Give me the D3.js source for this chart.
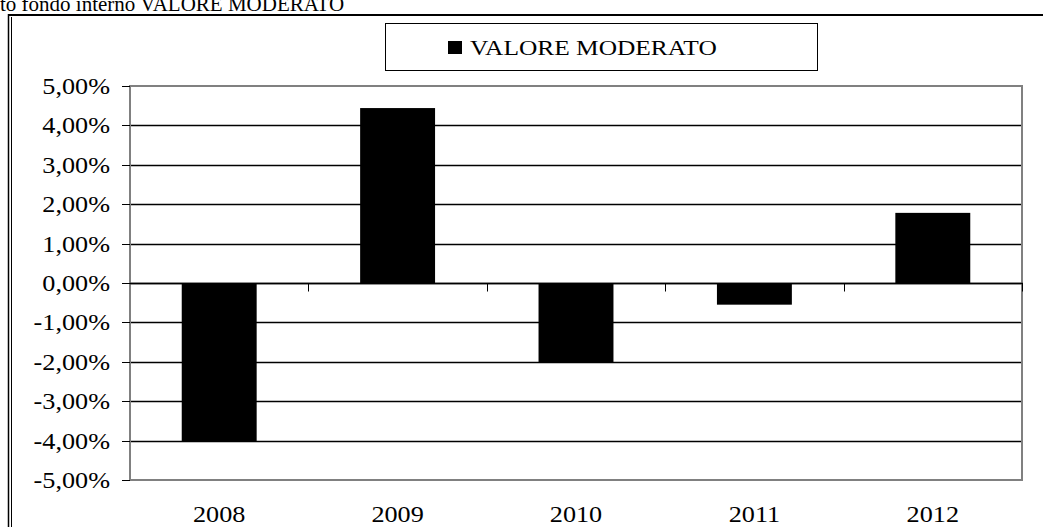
<!DOCTYPE html>
<html>
<head>
<meta charset="utf-8">
<script src="https://cdn.jsdelivr.net/npm/d3@7"></script>
<style>
  html, body { margin: 0; padding: 0; background: #fff; overflow: hidden; }
</style>
</head>
<body>
<script>
const YEARS = ["2008", "2009", "2010", "2011", "2012"];
const VALUES = [-4.02, 4.44, -2.02, -0.55, 1.78];
const Y_TICKS = [-5, -4, -3, -2, -1, 0, 1, 2, 3, 4, 5];
const SERIES_NAME = "VALORE MODERATO";
const TITLE = "to fondo interno VALORE MODERATO";

const W = 1043, H = 527;
const plot = { left: 130, right: 1022, top: 86, bottom: 480 };
const STRETCH = 1.14; // glyphs in the reference are drawn a bit wide
const FONT = "'Liberation Serif', 'Times New Roman', serif";

const svg = d3.select("body").append("svg")
  .attr("width", W).attr("height", H)
  .attr("font-family", FONT)
  .style("display", "block");

// cut-off title at very top
svg.append("text")
  .attr("x", 0).attr("y", 11)
  .attr("font-size", 21)
  .text(TITLE);

// outer frame: heavy top line, double left line
svg.append("line").attr("x1", 8).attr("x2", W).attr("y1", 15).attr("y2", 15)
  .attr("stroke", "#000").attr("stroke-width", 2);
svg.append("line").attr("x1", 8.5).attr("x2", 8.5).attr("y1", 14).attr("y2", H)
  .attr("stroke", "#000").attr("stroke-width", 1.5);
svg.append("line").attr("x1", 11.5).attr("x2", 11.5).attr("y1", 17).attr("y2", H)
  .attr("stroke", "#000").attr("stroke-width", 1);

const x = d3.scaleBand()
  .domain(YEARS)
  .range([plot.left, plot.right])
  .paddingInner(0.58)
  .paddingOuter(0.29);

const y = d3.scaleLinear()
  .domain([-5, 5])
  .range([plot.bottom, plot.top]);

const fmt = v => d3.format(".2f")(v).replace("\u2212", "-").replace(".", ",") + "%";

// gridlines
svg.append("g")
  .selectAll("line")
  .data(Y_TICKS.filter(t => t !== -5 && t !== 5))
  .join("line")
  .attr("x1", plot.left).attr("x2", plot.right)
  .attr("y1", d => Math.round(y(d)) + 0.5).attr("y2", d => Math.round(y(d)) + 0.5)
  .attr("stroke", "#000").attr("stroke-width", 1.3);

// bars
svg.append("g")
  .selectAll("rect")
  .data(VALUES)
  .join("rect")
  .attr("x", (d, i) => x(YEARS[i]))
  .attr("width", x.bandwidth())
  .attr("y", d => y(Math.max(0, d)))
  .attr("height", d => Math.abs(y(d) - y(0)))
  .attr("fill", "#000");

// plot area border (grey)
svg.append("rect")
  .attr("x", plot.left).attr("y", plot.top)
  .attr("width", plot.right - plot.left).attr("height", plot.bottom - plot.top)
  .attr("fill", "none").attr("stroke", "#808080").attr("stroke-width", 2);

// zero line with category separators
const y0 = Math.round(y(0)) + 0.5;
svg.append("line")
  .attr("x1", plot.left).attr("x2", plot.right + 1)
  .attr("y1", y0).attr("y2", y0)
  .attr("stroke", "#000").attr("stroke-width", 1.3);
svg.append("g")
  .selectAll("line")
  .data(YEARS)
  .join("line")
  .attr("x1", d => Math.round(x(d) + x.step() * 0.71) + 0.5)
  .attr("x2", d => Math.round(x(d) + x.step() * 0.71) + 0.5)
  .attr("y1", y0).attr("y2", y0 + 8)
  .attr("stroke", "#000").attr("stroke-width", 1);

// y axis ticks and labels
const yAxis = svg.append("g");
yAxis.selectAll("line")
  .data(Y_TICKS)
  .join("line")
  .attr("x1", plot.left - 8).attr("x2", plot.left)
  .attr("y1", d => Math.round(y(d)) + 0.5).attr("y2", d => Math.round(y(d)) + 0.5)
  .attr("stroke", "#000").attr("stroke-width", 1);
yAxis.selectAll("text")
  .data(Y_TICKS)
  .join("text")
  .attr("transform", d => `translate(110,${y(d) + 8}) scale(${STRETCH},1)`)
  .attr("text-anchor", "end")
  .attr("font-size", 23)
  .text(fmt);

// x labels
svg.append("g")
  .selectAll("text")
  .data(YEARS)
  .join("text")
  .attr("transform", d => `translate(${x(d) + x.bandwidth() / 2},522) scale(${STRETCH},1)`)
  .attr("text-anchor", "middle")
  .attr("font-size", 23)
  .text(d => d);

// legend
const legend = svg.append("g");
legend.append("rect")
  .attr("x", 385.5).attr("y", 23.5).attr("width", 432).attr("height", 47)
  .attr("fill", "#fff").attr("stroke", "#000").attr("stroke-width", 1);
legend.append("rect")
  .attr("x", 448).attr("y", 41).attr("width", 14).attr("height", 13)
  .attr("fill", "#000");
legend.append("text")
  .attr("transform", `translate(470,55) scale(1.27,1)`)
  .attr("font-size", 20)
  .text(SERIES_NAME);
</script>
</body>
</html>
